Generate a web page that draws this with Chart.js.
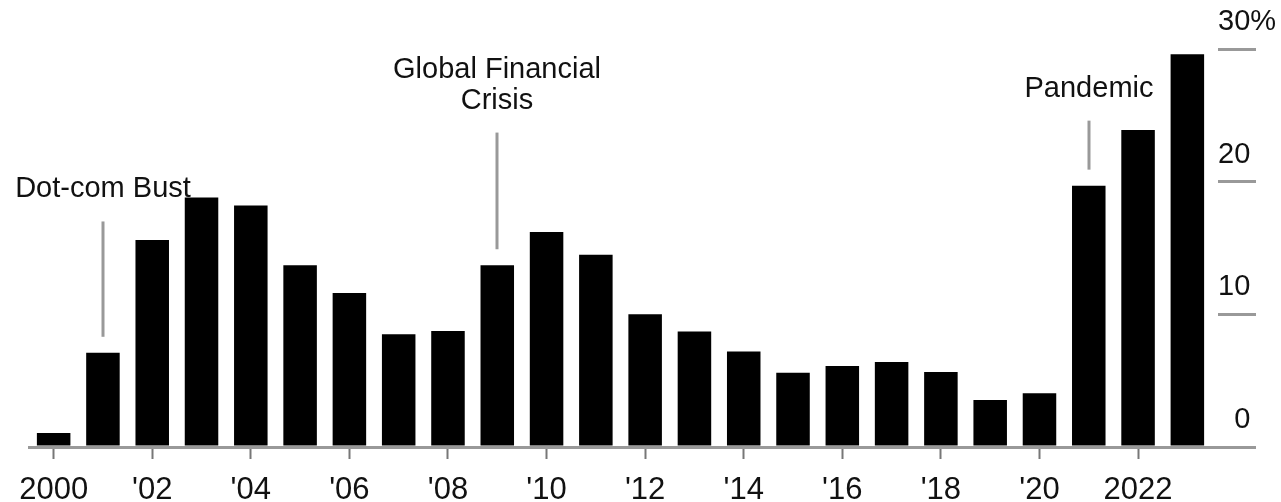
<!DOCTYPE html>
<html>
<head>
<meta charset="utf-8">
<script src="https://cdn.jsdelivr.net/npm/chart.js@4/dist/chart.umd.min.js"></script>
<style>
  html, body { margin: 0; padding: 0; background: #fff; }
</style>
</head>
<body>
<canvas id="barChart" width="1281" height="502"></canvas>
<script>
const years = [2000, 2001, 2002, 2003, 2004, 2005, 2006, 2007, 2008, 2009, 2010, 2011,
               2012, 2013, 2014, 2015, 2016, 2017, 2018, 2019, 2020, 2021, 2022, 2023];
const shares = [1.05, 7.1, 15.6, 18.8, 18.2, 13.7, 11.6, 8.5, 8.75, 13.7, 16.2, 14.5,
                10.0, 8.7, 7.2, 5.6, 6.1, 6.4, 5.65, 3.55, 4.05, 19.7, 23.9, 29.6];
const xTickLabels = ['2000', '', "'02", '', "'04", '', "'06", '', "'08", '', "'10", '',
                     "'12", '', "'14", '', "'16", '', "'18", '', "'20", '', '2022', ''];
const yTickLabels = { 0: '\u20070', 10: '10', 20: '20', 30: '30%' };

// annotated events: year, text lines, value where the leader line starts
const eventYears = [2001, 2009, 2021];
const eventNames = [['Dot-com Bust'], ['Global Financial', 'Crisis'], ['Pandemic']];
const eventLineTops = [17.0, 23.7, 24.6];

const FONT = "'Liberation Sans', Arial, Helvetica, sans-serif";
Chart.defaults.font.family = FONT;

const eventPlugin = {
  id: 'eventNotes',
  afterDatasetsDraw(chart) {
    const { ctx, scales: { x, y } } = chart;
    ctx.save();
    eventYears.forEach((yr, i) => {
      const idx = years.indexOf(yr);
      const px = Math.round(x.getPixelForValue(idx));
      const top = y.getPixelForValue(eventLineTops[i]);
      const bottom = y.getPixelForValue(shares[idx]) - 16;
      ctx.strokeStyle = '#999';
      ctx.lineWidth = 3;
      ctx.beginPath();
      ctx.moveTo(px, top);
      ctx.lineTo(px, bottom);
      ctx.stroke();

      const lines = eventNames[i];
      ctx.fillStyle = '#111';
      ctx.font = '29px ' + FONT;
      ctx.textAlign = 'center';
      ctx.textBaseline = 'alphabetic';
      lines.forEach((t, j) => {
        ctx.fillText(t, px, top - 24 - (lines.length - 1 - j) * 31);
      });
    });
    ctx.restore();
  }
};

const data = {
  labels: years.map(String),
  datasets: [{
    data: shares,
    backgroundColor: '#000',
    borderWidth: 0,
    barPercentage: 0.68,
    categoryPercentage: 1.0
  }]
};

const options = {
  responsive: false,
  animation: false,
  layout: { padding: { left: 29, top: 49, right: 0, bottom: 0 } },
  plugins: {
    legend: { display: false },
    tooltip: { enabled: false }
  },
  scales: {
    x: {
      offset: true,
      grid: {
        display: true,
        offset: false,
        drawOnChartArea: false,
        tickLength: 12,
        tickWidth: 2,
        tickColor: c => (c.index % 2 === 0 ? '#777' : 'rgba(0,0,0,0)')
      },
      // baseline starts at the first bar's left edge
      border: { display: true, color: '#999', width: 3, dash: [3000, 7], dashOffset: 3000 },
      ticks: {
        autoSkip: false,
        maxRotation: 0,
        padding: 13,
        color: '#111',
        font: { size: 31 },
        callback: (v, i) => xTickLabels[i]
      },
      afterFit: s => { s.height = 55; }
    },
    y: {
      position: 'right',
      min: 0,
      max: 30,
      grid: {
        drawOnChartArea: false,
        tickLength: 44,
        color: '#999',
        lineWidth: 3,
        tickBorderDash: c => (c.tick && c.tick.value === 0 ? [] : [38, 6]),
        tickBorderDashOffset: 38
      },
      border: { display: false },
      ticks: {
        stepSize: 10,
        padding: -38,
        labelOffset: -27,
        crossAlign: 'near',
        color: '#111',
        font: { size: 29 },
        callback: v => yTickLabels[v]
      },
      afterFit: s => { s.width = 69; }
    }
  }
};

new Chart('barChart', { type: 'bar', data, options, plugins: [eventPlugin] });
</script>
</body>
</html>
